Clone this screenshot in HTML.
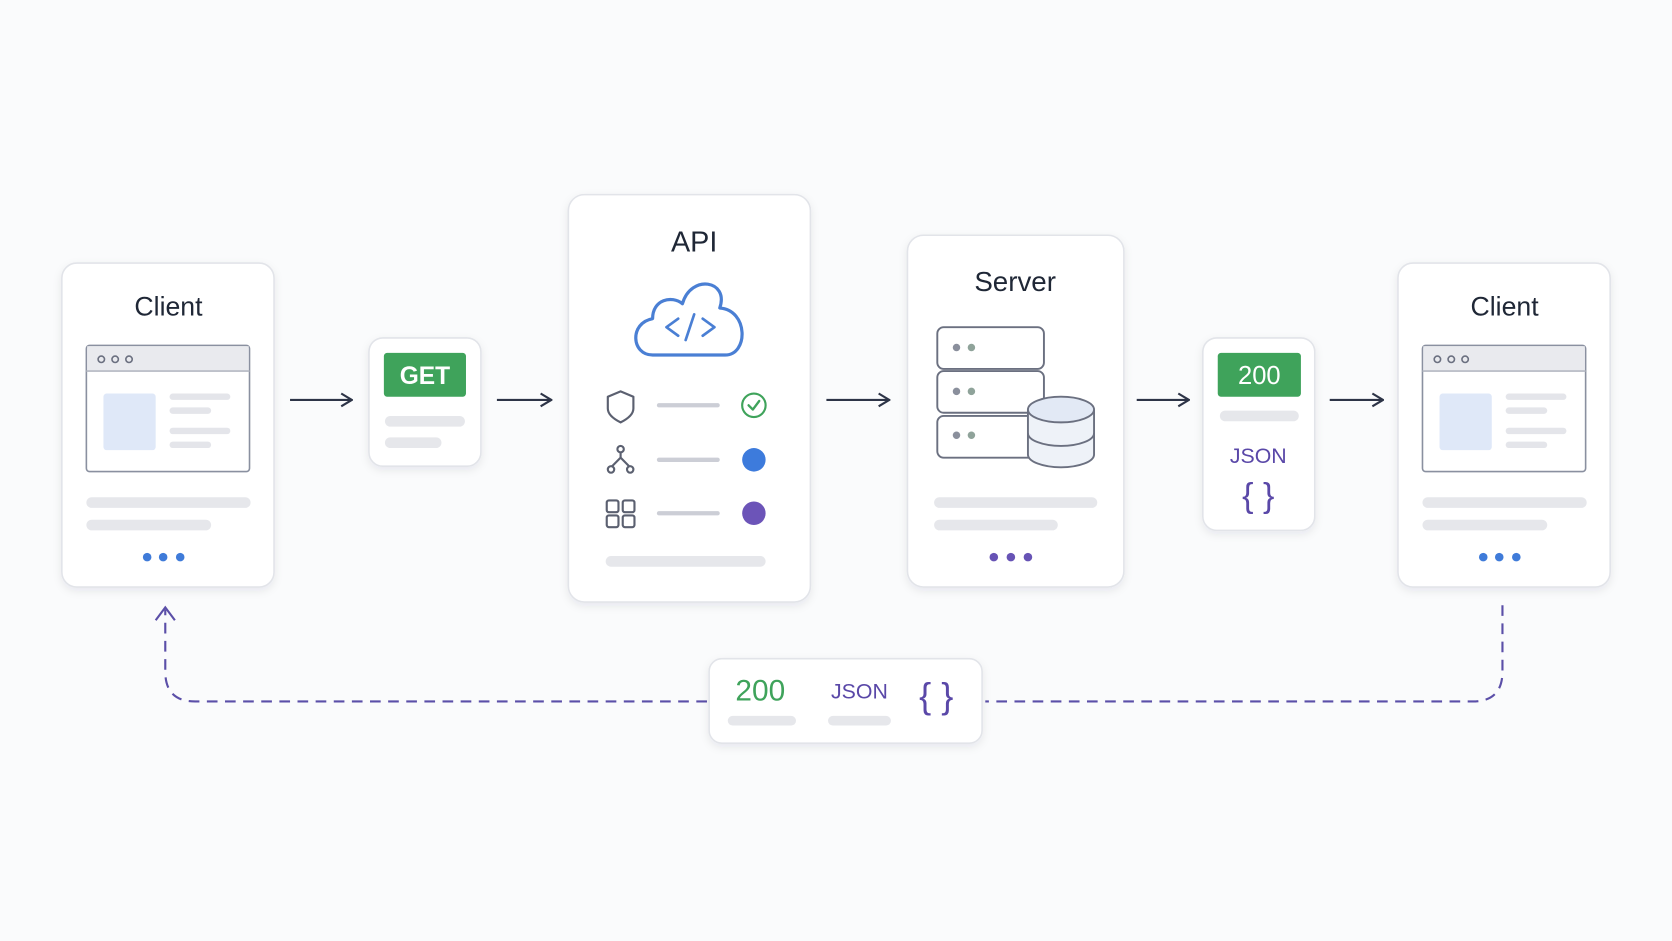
<!DOCTYPE html>
<html><head><meta charset="utf-8"><style>
html,body{margin:0;padding:0;background:#fafbfc;}
svg{display:block;}
text{font-family:"Liberation Sans",sans-serif;}
</style></head><body>
<svg width="1672" height="941" viewBox="0 0 1568 880" preserveAspectRatio="none" xmlns="http://www.w3.org/2000/svg">
<defs>
<filter id="sh" x="-10%" y="-10%" width="120%" height="125%"><feDropShadow dx="0" dy="3" stdDeviation="4" flood-color="#1f2a44" flood-opacity="0.08"/></filter>
<marker id="ah" markerWidth="12" markerHeight="14" refX="11" refY="7" orient="auto" markerUnits="userSpaceOnUse"><path d="M1,1 L11,7 L1,13" fill="none" stroke="#2d3447" stroke-width="2"/></marker>
<g id="client">
<rect x="0" y="0" width="199" height="303" rx="14" fill="#fff" stroke="#e2e4e9" stroke-width="1.5" filter="url(#sh)"/>
<text x="100" y="49" font-size="25" text-anchor="middle" fill="#1f2736">Client</text>
<rect x="23" y="77" width="153" height="118" rx="3" fill="#fff" stroke="#8a90a0" stroke-width="1.5"/>
<rect x="23.75" y="77.75" width="151.5" height="23" fill="#e9eaee"/>
<line x1="23" y1="101" x2="176" y2="101" stroke="#b4b8c2" stroke-width="1.5"/>
<circle cx="37" cy="90" r="3" fill="none" stroke="#6b7080" stroke-width="1.5"/>
<circle cx="50" cy="90" r="3" fill="none" stroke="#6b7080" stroke-width="1.5"/>
<circle cx="63" cy="90" r="3" fill="none" stroke="#6b7080" stroke-width="1.5"/>
<rect x="39" y="122" width="49" height="53" rx="3" fill="#dfe8f8"/>
<g stroke="#e4e5ea" stroke-width="6" stroke-linecap="round">
<line x1="104" y1="125" x2="155" y2="125"/><line x1="104" y1="138" x2="137" y2="138"/>
<line x1="104" y1="157" x2="155" y2="157"/><line x1="104" y1="170" x2="137" y2="170"/>
</g>
<g stroke="#e6e7eb" stroke-width="10" stroke-linecap="round">
<line x1="28" y1="224" x2="172" y2="224"/><line x1="28" y1="245" x2="135" y2="245"/>
</g>
</g>
</defs>
<rect width="1568" height="880" fill="#fafbfc"/>

<!-- Client 1 -->
<use href="#client" x="58" y="246"/>
<g fill="#3f7bd9"><circle cx="138" cy="521" r="4"/><circle cx="153" cy="521" r="4"/><circle cx="169" cy="521" r="4"/></g>

<!-- arrows -->
<g stroke="#2d3447" stroke-width="2" marker-end="url(#ah)">
<line x1="272" y1="374" x2="330" y2="374"/>
<line x1="466" y1="374" x2="517" y2="374"/>
<line x1="775" y1="374" x2="834" y2="374"/>
<line x1="1066" y1="374" x2="1115" y2="374"/>
<line x1="1247" y1="374" x2="1297" y2="374"/>
</g>

<!-- GET card -->
<rect x="346" y="316" width="105" height="120" rx="13" fill="#fff" stroke="#e2e4e9" stroke-width="1.5" filter="url(#sh)"/>
<rect x="360" y="330" width="77" height="41" rx="3" fill="#3fa35b"/>
<text x="398.5" y="359" font-size="23" font-weight="bold" text-anchor="middle" fill="#fff">GET</text>
<g stroke="#e6e7eb" stroke-width="10" stroke-linecap="round">
<line x1="366" y1="394" x2="431" y2="394"/><line x1="366" y1="414" x2="409" y2="414"/>
</g>

<!-- API card -->
<rect x="533" y="182" width="227" height="381" rx="15" fill="#fff" stroke="#e2e4e9" stroke-width="1.5" filter="url(#sh)"/>
<text x="651" y="235" font-size="27" text-anchor="middle" fill="#1f2736">API</text>
<path d="M612,332 C592,332 590,302 612,298 C612,280 630,276 640,284 C648,256 684,262 675,288 C702,290 702,332 680,332 Z" fill="#fff" stroke="#4a7fd4" stroke-width="3" stroke-linejoin="round"/>
<g fill="none" stroke="#4a7fd4" stroke-width="2.5" stroke-linecap="round" stroke-linejoin="round">
<path d="M636,298 L625,306 L636,314"/><path d="M659,298 L670,306 L659,314"/><line x1="651" y1="294" x2="643" y2="318"/>
</g>
<g fill="none" stroke="#5b6070" stroke-width="2" stroke-linejoin="round">
<path d="M582,366 L594,371 L594,382 C594,388 588,392 582,395 C576,392 570,388 570,382 L570,371 Z"/>
<circle cx="582" cy="420" r="3"/><circle cx="573" cy="439" r="3"/><circle cx="591" cy="439" r="3"/>
<path d="M582,423 L582,428 L574,436 M582,428 L590,436"/>
<rect x="569" y="468" width="11" height="11" rx="2"/><rect x="584" y="468" width="11" height="11" rx="2"/>
<rect x="569" y="482" width="11" height="11" rx="2"/><rect x="584" y="482" width="11" height="11" rx="2"/>
</g>
<g stroke="#ccced6" stroke-width="4" stroke-linecap="round">
<line x1="618" y1="379" x2="673" y2="379"/><line x1="618" y1="430" x2="673" y2="430"/><line x1="618" y1="480" x2="673" y2="480"/>
</g>
<circle cx="707" cy="379" r="11" fill="#fff" stroke="#3fa35b" stroke-width="2"/>
<path d="M702,379 L706,383 L712,375" fill="none" stroke="#3fa35b" stroke-width="2.2" stroke-linecap="round" stroke-linejoin="round"/>
<circle cx="707" cy="430" r="11" fill="#3d7bdc"/>
<circle cx="707" cy="480" r="11" fill="#6c54b8"/>
<line x1="573" y1="525" x2="713" y2="525" stroke="#e6e7eb" stroke-width="10" stroke-linecap="round"/>

<!-- Server card -->
<rect x="851" y="220" width="203" height="329" rx="15" fill="#fff" stroke="#e2e4e9" stroke-width="1.5" filter="url(#sh)"/>
<text x="952" y="272" font-size="26" text-anchor="middle" fill="#1f2736">Server</text>
<g fill="#fff" stroke="#6b7080" stroke-width="1.8">
<rect x="879" y="389" width="100" height="39" rx="6"/>
<rect x="879" y="347" width="100" height="39" rx="6"/>
<rect x="879" y="306" width="100" height="39" rx="6"/>
</g>
<g fill="#8a8f9c"><circle cx="897" cy="325" r="3.5"/><circle cx="897" cy="366" r="3.5"/><circle cx="897" cy="407" r="3.5"/></g>
<g fill="#8fa39a"><circle cx="911" cy="325" r="3.5"/><circle cx="911" cy="366" r="3.5"/><circle cx="911" cy="407" r="3.5"/></g>
<path d="M964,383 L964,425 A31,12 0 0 0 1026,425 L1026,383 Z" fill="#eef2f8" stroke="#6b7080" stroke-width="1.8"/>
<path d="M964,405 A31,12 0 0 0 1026,405" fill="none" stroke="#6b7080" stroke-width="1.8"/>
<ellipse cx="995" cy="383" rx="31" ry="12" fill="#e2e9f5" stroke="#6b7080" stroke-width="1.8"/>
<g stroke="#e6e7eb" stroke-width="10" stroke-linecap="round">
<line x1="881" y1="470" x2="1024" y2="470"/><line x1="881" y1="491" x2="987" y2="491"/>
</g>
<g fill="#6753b5"><circle cx="932" cy="521" r="4"/><circle cx="948" cy="521" r="4"/><circle cx="964" cy="521" r="4"/></g>

<!-- 200 card -->
<rect x="1128" y="316" width="105" height="180" rx="13" fill="#fff" stroke="#e2e4e9" stroke-width="1.5" filter="url(#sh)"/>
<rect x="1142" y="330" width="78" height="41" rx="3" fill="#3fa35b"/>
<text x="1181" y="359" font-size="24" text-anchor="middle" fill="#fff">200</text>
<line x1="1149" y1="389" x2="1213" y2="389" stroke="#e6e7eb" stroke-width="10" stroke-linecap="round"/>
<text x="1180" y="433" font-size="20" text-anchor="middle" fill="#5a48a8">JSON</text>
<text x="1180" y="474" font-size="32" text-anchor="middle" fill="#5a48a8">{ }</text>

<!-- Client 2 -->
<use href="#client" x="1311" y="246"/>
<g fill="#3f7bd9"><circle cx="1391" cy="521" r="4"/><circle cx="1406" cy="521" r="4"/><circle cx="1422" cy="521" r="4"/></g>

<!-- dashed return -->
<g fill="none" stroke="#5b4fa8" stroke-width="2" stroke-dasharray="10 7">
<path d="M1409,566 L1409,628 Q1409,656 1381,656 L924,656"/>
<path d="M663,656 L183,656 Q155,656 155,628 L155,570"/>
</g>
<path d="M146,580 L155,568 L164,580" fill="none" stroke="#5b4fa8" stroke-width="2"/>
<rect x="665" y="616" width="256" height="79" rx="12" fill="#fff" stroke="#e2e4e9" stroke-width="1.5" filter="url(#sh)"/>
<text x="713" y="655" font-size="28" text-anchor="middle" fill="#3fa35b">200</text>
<text x="806" y="653" font-size="20" text-anchor="middle" fill="#5a48a8">JSON</text>
<text x="878" y="662" font-size="34" text-anchor="middle" fill="#5a48a8">{ }</text>
<g stroke="#e6e7eb" stroke-width="9" stroke-linecap="round">
<line x1="687" y1="674" x2="742" y2="674"/><line x1="781" y1="674" x2="831" y2="674"/>
</g>
</svg>
</body></html>
